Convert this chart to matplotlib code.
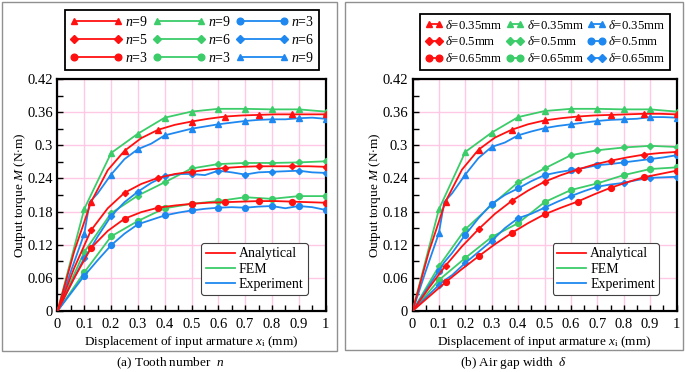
import numpy as np
import matplotlib
matplotlib.use('Agg')
from matplotlib import pyplot as plt
from matplotlib.lines import Line2D
from matplotlib.patches import Rectangle
from matplotlib.ticker import MultipleLocator, FormatStrFormatter

plt.rcParams['font.family'] = 'Liberation Serif'
plt.rcParams['mathtext.fontset'] = 'custom'
plt.rcParams['mathtext.rm'] = 'Liberation Serif'
plt.rcParams['mathtext.it'] = 'Liberation Serif:italic'

# x positions
ana_x = [i * 0.0625 for i in range(17)]
fem_x = [i * 0.1 for i in range(11)]
exp_x = [0, 0.05, 0.1, 0.12, 0.15, 0.2, 0.25, 0.3, 0.35, 0.4, 0.45, 0.5,
         0.55, 0.6, 0.65, 0.7, 0.75, 0.8, 0.85, 0.9, 0.95, 1.0]

# (a) tooth number n
ana_n9 = [0, 0.108, 0.197, 0.255, 0.290, 0.313, 0.328, 0.337, 0.343, 0.348, 0.352, 0.354, 0.355, 0.356, 0.356, 0.356, 0.356]
ana_n5 = [0, 0.078, 0.146, 0.186, 0.214, 0.230, 0.241, 0.248, 0.252, 0.256, 0.259, 0.261, 0.262, 0.262, 0.262, 0.262, 0.261]
ana_n3 = [0, 0.060, 0.114, 0.145, 0.167, 0.179, 0.187, 0.191, 0.194, 0.196, 0.197, 0.198, 0.199, 0.199, 0.198, 0.197, 0.196]
fem_n9 = [0, 0.185, 0.286, 0.321, 0.350, 0.361, 0.366, 0.366, 0.365, 0.365, 0.361]
fem_n6 = [0, 0.107, 0.177, 0.209, 0.233, 0.258, 0.266, 0.268, 0.268, 0.269, 0.271]
fem_n3 = [0, 0.070, 0.135, 0.163, 0.186, 0.194, 0.199, 0.206, 0.203, 0.208, 0.208]
exp_n9 = [0, 0.072, 0.140, 0.197, 0.213, 0.247, 0.275, 0.293, 0.303, 0.318, 0.324, 0.330,
          0.334, 0.338, 0.341, 0.344, 0.346, 0.347, 0.347, 0.349, 0.350, 0.348]
exp_n6 = [0, 0.048, 0.096, 0.110, 0.135, 0.172, 0.197, 0.216, 0.232, 0.244, 0.248, 0.248,
          0.246, 0.254, 0.251, 0.247, 0.251, 0.252, 0.253, 0.254, 0.251, 0.250]
exp_n3 = [0, 0.032, 0.064, 0.075, 0.092, 0.119, 0.140, 0.157, 0.165, 0.173, 0.178, 0.182,
          0.185, 0.187, 0.188, 0.187, 0.189, 0.190, 0.186, 0.190, 0.188, 0.183]

# (b) air gap width delta
ana_d35 = [0, 0.108, 0.198, 0.256, 0.292, 0.314, 0.328, 0.338, 0.345, 0.349, 0.352, 0.354, 0.355, 0.356, 0.357, 0.357, 0.356]
ana_d50 = [0, 0.042, 0.082, 0.117, 0.148, 0.176, 0.199, 0.218, 0.234, 0.246, 0.256, 0.265, 0.272, 0.278, 0.283, 0.286, 0.288]
ana_d65 = [0, 0.026, 0.052, 0.076, 0.099, 0.121, 0.141, 0.159, 0.175, 0.187, 0.198, 0.211, 0.223, 0.233, 0.242, 0.248, 0.254]
fem_d35 = [0, 0.184, 0.288, 0.323, 0.351, 0.362, 0.366, 0.366, 0.365, 0.365, 0.361]
fem_d50 = [0, 0.081, 0.148, 0.192, 0.233, 0.258, 0.282, 0.291, 0.296, 0.299, 0.297]
fem_d65 = [0, 0.056, 0.096, 0.134, 0.159, 0.197, 0.219, 0.231, 0.246, 0.257, 0.260]
exp_d35 = [0, 0.072, 0.141, 0.197, 0.213, 0.247, 0.277, 0.297, 0.305, 0.318, 0.325, 0.331,
           0.335, 0.338, 0.341, 0.344, 0.346, 0.347, 0.348, 0.351, 0.351, 0.350]
exp_d50 = [0, 0.037, 0.073, 0.088, 0.105, 0.138, 0.168, 0.194, 0.210, 0.222, 0.235, 0.246,
           0.251, 0.255, 0.259, 0.264, 0.266, 0.269, 0.272, 0.275, 0.278, 0.282]
exp_d65 = [0, 0.024, 0.047, 0.055, 0.065, 0.087, 0.107, 0.127, 0.150, 0.168, 0.176, 0.187,
           0.198, 0.208, 0.217, 0.225, 0.229, 0.232, 0.237, 0.241, 0.242, 0.243]

RED = '#ff1010'
GREEN = '#3ccc6a'
BLUE = '#1e88f0'
PINK = '#ffc8e4'
MS = {'^': 4.2, 'o': 4.2, 'D': 3.2}

ana_mark = list(range(2, 17, 2))
fem_mark = list(range(1, 11))
exp_mark = [i for i, v in enumerate(exp_x) if i > 0 and abs(v * 10 - round(v * 10)) < 1e-6]

fig = plt.figure(figsize=(6.85, 3.72), dpi=100)

# panel frames
fig.patches.append(Rectangle((2 / 685, 1 - 351 / 372), 335 / 685, 349 / 372,
                             transform=fig.transFigure, fill=False, ec='#909090', lw=1.0))
fig.patches.append(Rectangle((345 / 685, 1 - 350 / 372), 338 / 685, 348 / 372,
                             transform=fig.transFigure, fill=False, ec='#909090', lw=1.0))


def setup(ax):
    ax.set_xlim(0, 1)
    ax.set_ylim(0, 0.42)
    ax.xaxis.set_major_locator(MultipleLocator(0.1))
    ax.xaxis.set_minor_locator(MultipleLocator(0.05))
    ax.yaxis.set_major_locator(MultipleLocator(0.06))
    ax.yaxis.set_minor_locator(MultipleLocator(0.03))
    ax.xaxis.set_major_formatter(FormatStrFormatter('%g'))
    ax.yaxis.set_major_formatter(FormatStrFormatter('%g'))
    ax.tick_params(which='both', direction='in', length=4, width=1.0, labelsize=10.5)
    ax.tick_params(axis='x', pad=5)
    ax.grid(True, which='major', color=PINK, lw=1.0)
    ax.set_axisbelow(True)
    for s in ax.spines.values():
        s.set_linewidth(1.6)
    ax.set_xlabel('Displacement of input armature $x_{\\mathrm{i}}$ (mm)', fontsize=9.5, labelpad=2)
    ax.set_ylabel('Output torque $M$ (N$\\cdot$m)', fontsize=9.5, labelpad=3)


def draw(ax, ana, fem, exp, marks):
    for y, m in zip(ana, marks[0]):
        ax.plot(ana_x, y, color=RED, lw=1.3, marker=m, ms=MS[m], markevery=ana_mark, zorder=4)
    for y, m in zip(fem, marks[1]):
        ax.plot(fem_x, y, color=GREEN, lw=1.3, marker=m, ms=MS[m], markevery=fem_mark, zorder=3)
    for y, m in zip(exp, marks[2]):
        ax.plot(exp_x, y, color=BLUE, lw=1.3, marker=m, ms=MS[m], markevery=exp_mark, zorder=3)
    leg = ax.legend([Line2D([], [], color=RED, lw=1.3), Line2D([], [], color=GREEN, lw=1.3),
                     Line2D([], [], color=BLUE, lw=1.3)],
                    ['Analytical', 'FEM', 'Experiment'], loc='lower right',
                    bbox_to_anchor=(0.96, 0.04), fontsize=10, fancybox=True,
                    framealpha=1, edgecolor='#404040', handlelength=2.1,
                    borderpad=0.3, labelspacing=0.15, handletextpad=0.3)
    leg.get_frame().set_linewidth(0.8)


def top_legend(ax, labels, marks, hlen, box, fs):
    handles = []
    for col, ms_list in zip([RED, GREEN, BLUE], marks):
        for m in ms_list:
            handles.append(Line2D([], [], color=col, lw=1.3, marker=m, ms=MS[m] + 0.6))
    leg = fig.legend(handles, labels, ncol=3, loc='center', bbox_to_anchor=box,
                     numpoints=2, fontsize=fs, handlelength=hlen, handletextpad=0.2,
                     columnspacing=0.3, labelspacing=0.3, fancybox=False,
                     edgecolor='black', borderpad=0.35, framealpha=1)
    leg.get_frame().set_linewidth(1.3)


ax1 = fig.add_axes([57.5 / 685, 1 - 311 / 372, 268 / 685, 232 / 372])
setup(ax1)
draw(ax1, [ana_n9, ana_n5, ana_n3], [fem_n9, fem_n6, fem_n3], [exp_n9, exp_n6, exp_n3],
     (['^', 'D', 'o'], ['^', 'D', 'o'], ['^', 'D', 'o']))
ax1.yaxis.set_label_coords(-0.11, 0.5)

ax2 = fig.add_axes([412.5 / 685, 1 - 311 / 372, 264 / 685, 232 / 372])
setup(ax2)
draw(ax2, [ana_d35, ana_d50, ana_d65], [fem_d35, fem_d50, fem_d65], [exp_d35, exp_d50, exp_d65],
     (['^', 'D', 'o'], ['^', 'D', 'o'], ['^', 'o', 'D']))
ax2.yaxis.set_label_coords(-0.11, 0.5)

n_labels = ['$n$=9', '$n$=5', '$n$=3', '$n$=9', '$n$=6', '$n$=3', '$n$=3', '$n$=6', '$n$=9']
top_legend(ax1, n_labels, [['^', 'D', 'o'], ['^', 'D', 'o'], ['o', 'D', '^']], 3.8,
           (192 / 685, 1 - 40 / 372), 10)
d_labels = ['$\\delta$=0.35mm', '$\\delta$=0.5mm', '$\\delta$=0.65mm'] * 3
top_legend(ax2, d_labels, [['^', 'D', 'o'], ['^', 'D', 'o'], ['^', 'o', 'D']], 1.4,
           (545 / 685, 1 - 42 / 372), 9.2)

fig.text(170 / 685, 1 - 363 / 372, '(a) Tooth number  $n$', ha='center', va='center', fontsize=9.5)
fig.text(514 / 685, 1 - 363 / 372, '(b) Air gap width  $\\delta$', ha='center', va='center', fontsize=9.5)

fig.savefig('out.png', dpi=100)
